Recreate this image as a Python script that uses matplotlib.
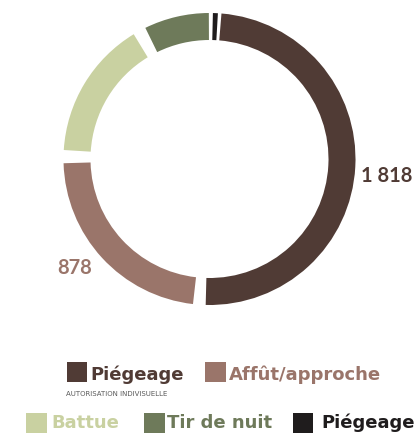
import matplotlib
matplotlib.use("Agg")
import matplotlib.pyplot as plt
from matplotlib.patches import Rectangle

# ---- data ----
categories = ["Piégeage", "Affût/approche", "Battue", "Tir de nuit", "Piégeage"]
values = [1818, 878, 610, 295, 35]
colors = ["#503b35", "#9a756a", "#c9d1a1", "#6e7a5a", "#1f1c1d"]
value_labels = ["1 818", "878"]
subtitle = "AUTORISATION INDIVISUELLE"

W, H, DPI = 417, 433, 100
fig = plt.figure(figsize=(W / DPI, H / DPI), dpi=DPI)

# donut geometry (pixels)
cx, cy, R, ring = 209.5, 159.0, 146.0, 27.0
ax = fig.add_axes([(cx - R) / W, (H - cy - R) / H, 2 * R / W, 2 * R / H])
wedges, _ = ax.pie(values, colors=colors, startangle=86, counterclock=False,
                   radius=1.0, wedgeprops=dict(width=ring / R, linewidth=0))
ax.set_xlim(-1, 1)
ax.set_ylim(-1, 1)
ax.set_aspect("equal")
ax.axis("off")

# gaps between slices (degrees at start boundary of each slice, clockwise order)
pads = [0.7, 2.5, 2.6, 2.6, 0.8]
n = len(wedges)
for i, w in enumerate(wedges):
    # clockwise: theta2 is the start of slice, theta1 its end
    w.set_theta2(w.theta2 - pads[i])
    w.set_theta1(w.theta1 + pads[(i + 1) % n])


def fx(px):
    return px / W


def fy(py):
    return 1 - py / H


# value labels
fig.text(fx(361), fy(182), value_labels[0], color=colors[0], family="Lato",
         weight="bold", fontsize=14.5, ha="left", va="baseline")
fig.text(fx(57.5), fy(273.5), value_labels[1], color=colors[1], family="Lato",
         weight="bold", fontsize=14.5, ha="left", va="baseline")

# legend
leg_items = [
    (66.7, 361.7, 90.0, 380.0),
    (205.0, 361.7, 228.5, 380.0),
    (26.0, 412.7, 51.0, 428.3),
    (144.0, 412.7, 167.0, 428.3),
    (292.7, 412.7, 321.5, 428.3),
]
sq = 20.5
for (sx, sy, tx, ty), lab, col in zip(leg_items, categories, colors):
    fig.add_artist(Rectangle((fx(sx), fy(sy + sq)), sq / W, sq / H,
                             transform=fig.transFigure, color=col, lw=0))
    fig.text(fx(tx), fy(ty), lab, color=col, family="DejaVu Sans",
             weight="bold", fontsize=13, ha="left", va="baseline")

fig.text(fx(66.5), fy(396.5), subtitle, color="#5a5a5a", family="DejaVu Sans",
         fontsize=5.0, ha="left", va="baseline")

fig.savefig("out.png", dpi=DPI)
